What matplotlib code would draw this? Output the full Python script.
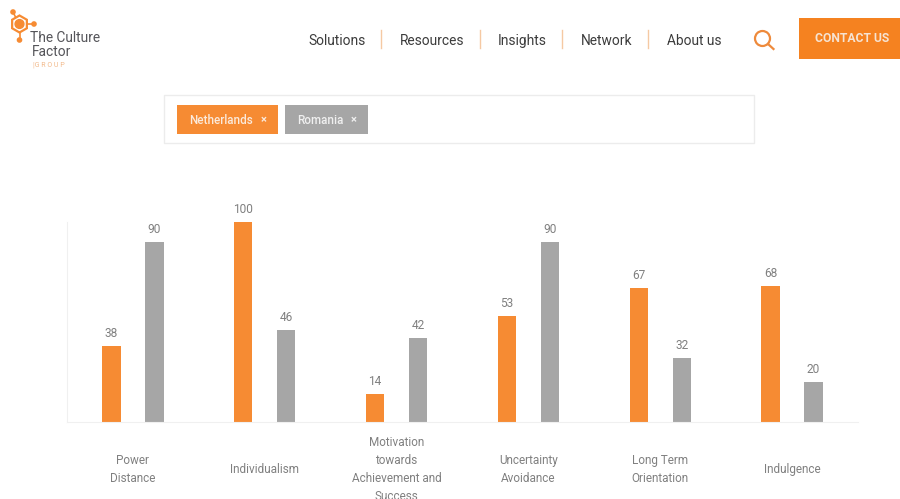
import matplotlib
matplotlib.use('Agg')
import matplotlib.pyplot as plt
from matplotlib.patches import Rectangle, RegularPolygon, Circle
import numpy as np

plt.rcParams['font.family'] = ['Roboto', 'DejaVu Sans']

# chart data
categories = ['Power\nDistance', 'Individualism', 'Motivation\ntowards\nAchievement and\nSuccess',
              'Uncertainty\nAvoidance', 'Long Term\nOrientation', 'Indulgence']
netherlands = [38, 100, 14, 53, 67, 68]
romania = [90, 46, 42, 90, 32, 20]

# page header text
nav_items = ['Solutions', 'Resources', 'Insights', 'Network', 'About us']
nav_x = [308, 400, 498, 581, 667]
nav_sep_x = [381, 480, 562, 648]

ORANGE = '#f68b33'
GREY = '#a6a6a6'
W, H = 900, 499

fig = plt.figure(figsize=(W / 100, H / 100), dpi=100)

# page layer, in pixel coordinates
page = fig.add_axes([0, 0, 1, 1])
page.set_xlim(0, W)
page.set_ylim(H, 0)
page.axis('off')

# logo
page.add_patch(RegularPolygon((19.5, 24), 6, radius=8.5, fill=False, ec=ORANGE, lw=1.6))
page.add_patch(Circle((19.5, 24), 4.4, color=ORANGE))
page.plot([13, 15.5], [12, 17], color=ORANGE, lw=1.2)
page.plot([27, 34], [24, 24], color=ORANGE, lw=1.2)
page.plot([19.5, 19.5], [32, 40], color=ORANGE, lw=1.2)
for cx, cy in [(13, 12), (34, 24), (19.5, 40)]:
    page.add_patch(Circle((cx, cy), 2.1, color=ORANGE))
page.text(30, 37.5, 'The Culture', fontsize=9.9, color='#55555a', va='center')
page.text(32, 52, 'Factor', fontsize=9.9, color='#55555a', va='center')
page.text(33, 65, '|G R O U P', fontsize=5, color='#f2b98a', va='center')

# nav
for x, label in zip(nav_x, nav_items):
    page.text(x, 40.8, label, fontsize=9.9, color='#3c3c3c', va='center')
for x in nav_sep_x:
    page.plot([x, x], [30, 48], color='#f5c9a3', lw=1)

# search icon
page.add_patch(Circle((762.5, 38.5), 7.5, fill=False, ec='#ee8a3c', lw=1.6))
page.plot([768, 773.5], [44, 49], color='#ee8a3c', lw=1.6)

# contact button
page.add_patch(Rectangle((798.5, 17.5), 102, 41.5, color='#f58220', lw=0))
page.text(852.5, 38.5, 'CONTACT US', fontsize=8.7, color='#f6e3d2', ha='center', va='center',
          fontweight='bold')

# filter box
page.add_patch(Rectangle((164, 95), 590, 48, fc='white', ec='#ececec', lw=1))
page.add_patch(Rectangle((177, 104.5), 101, 29.5, color=ORANGE, lw=0))
page.add_patch(Rectangle((285, 104.5), 83, 29.5, color=GREY, lw=0))
page.text(189, 120, 'Netherlands', fontsize=8.4, color='#fbeadc', va='center', fontweight='medium')
page.text(263.5, 120, '×', fontsize=8, color='#fbeadc', va='center', ha='center', fontweight='bold')
page.text(297, 120, 'Romania', fontsize=8.4, color='#f0f0f0', va='center', fontweight='medium')
page.text(353.5, 120, '×', fontsize=8, color='#f0f0f0', va='center', ha='center', fontweight='bold')

# chart
ax = fig.add_axes([67 / W, 1 - 421.5 / H, 791 / W, 199.5 / H])
ax.patch.set_alpha(0)
x = np.arange(len(categories))
bar_w = 0.14
off = 0.163
ax.bar(x - off, netherlands, bar_w, color=ORANGE)
ax.bar(x + off, romania, bar_w, color=GREY)
ax.set_xlim(-0.5, 5.5)
ax.set_ylim(0, 100)
for i in range(len(categories)):
    ax.annotate(str(netherlands[i]), (i - off, netherlands[i]), xytext=(0, 4.2), textcoords='offset points',
                ha='center', va='bottom', fontsize=8.6, color='#808080', annotation_clip=False)
    ax.annotate(str(romania[i]), (i + off, romania[i]), xytext=(0, 4.2), textcoords='offset points',
                ha='center', va='bottom', fontsize=8.6, color='#808080', annotation_clip=False)
ax.set_yticks([])
ax.set_xticks(x)
ax.set_xticklabels([])
ax.tick_params(axis='x', length=0)
for s in ['top', 'right']:
    ax.spines[s].set_visible(False)
ax.spines['left'].set_color('#f0f0f0')
ax.spines['bottom'].set_color('#f0f0f0')

# category labels are centred on a fixed line, the long one runs off the page
for i, label in enumerate(categories):
    ax.annotate(label, (i, 0), xytext=(0, -34.4), textcoords='offset points', ha='center', va='center',
                fontsize=8.5, color='#808080', linespacing=1.5, annotation_clip=False)

fig.savefig('out.png', dpi=100)
